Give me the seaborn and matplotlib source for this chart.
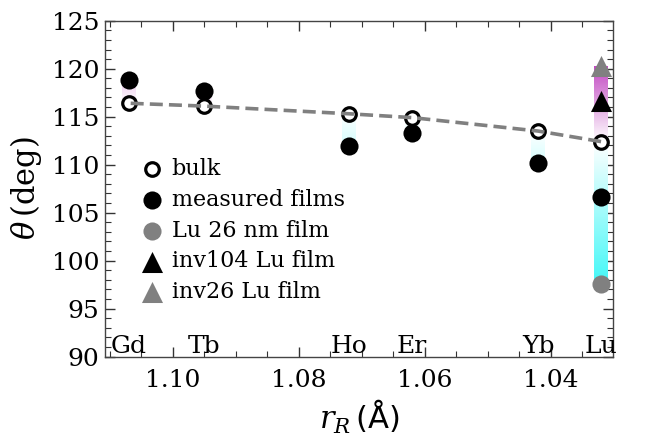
import numpy as np
import pandas as pd
import matplotlib
matplotlib.use("Agg")
import matplotlib.pyplot as plt
import seaborn as sns
from matplotlib.ticker import MultipleLocator, FormatStrFormatter

# ---- data ----
elements = ["Gd", "Tb", "Ho", "Er", "Yb", "Lu"]
radius = [1.107, 1.095, 1.072, 1.062, 1.042, 1.032]
bulk = [116.4, 116.1, 115.3, 114.9, 113.5, 112.4]
films = [118.8, 117.7, 111.9, 113.3, 110.2, 106.6]
lu_radius = [1.032]
lu26_film = [97.6]
inv104_film = [116.6]
inv26_film = [120.3]

sns.set_theme(style="ticks")
plt.rcParams["font.family"] = ["DejaVu Serif"]
plt.rcParams["mathtext.fontset"] = "dejavuserif"
plt.rcParams["text.color"] = "black"
plt.rcParams["axes.labelcolor"] = "black"

fig = plt.figure(figsize=(6.48, 4.41), dpi=100)
ax = fig.add_axes([0.162, 0.1916, 0.784, 0.7614])

cyan = np.array([0.25, 0.97, 0.97])
magenta = np.array([0.76, 0.28, 0.76])
white = np.array([1.0, 1.0, 1.0])
bar_w = 0.0022


def grad_bar(x, y_from, y_to):
    dev = y_to - y_from
    if dev < 0:
        col, scale = cyan, 15.0
    else:
        col, scale = magenta, 8.0
    n = 200
    frac = np.linspace(0, 1, n)
    inten = np.clip(frac * abs(dev) / scale, 0, 1)
    img = white[None, :] * (1 - inten[:, None]) + col[None, :] * inten[:, None]
    img = img[:, None, :]
    lo, hi = (y_from, y_to) if dev >= 0 else (y_to, y_from)
    if dev < 0:
        img = img[::-1]
    ax.imshow(img, extent=[x - bar_w / 2, x + bar_w / 2, lo, hi],
              origin="lower", aspect="auto", interpolation="bilinear", zorder=1)


for r, b, f in zip(radius, bulk, films):
    grad_bar(r, b, f)
grad_bar(lu_radius[0], bulk[-1], lu26_film[0])
grad_bar(lu_radius[0], bulk[-1], inv26_film[0])

df = pd.DataFrame({"r": radius, "bulk": bulk, "film": films})

sns.scatterplot(data=df, x="r", y="bulk", marker="o", s=95, facecolor="white",
                edgecolor="black", linewidth=2.3, label="bulk", ax=ax, zorder=3)
sns.scatterplot(data=df, x="r", y="film", marker="o", s=170, color="black",
                edgecolor="black", linewidth=0, label="measured films", ax=ax, zorder=3)
sns.scatterplot(x=lu_radius, y=lu26_film, marker="o", s=170, color="#808080",
                linewidth=0, label="Lu 26 nm film", ax=ax, zorder=3)
sns.scatterplot(x=lu_radius, y=inv104_film, marker="^", s=230, color="black",
                linewidth=0, label="inv104 Lu film", ax=ax, zorder=3)
sns.scatterplot(x=lu_radius, y=inv26_film, marker="^", s=230, color="#808080",
                linewidth=0, label="inv26 Lu film", ax=ax, zorder=3)
sns.lineplot(data=df, x="r", y="bulk", color="#808080", linestyle=(0, (3.6, 1.7)),
             linewidth=2.6, ax=ax, zorder=4, legend=False)

for el, r in zip(elements, radius):
    ax.text(r, 91.0, el, ha="center", va="center", fontsize=18, color="black", zorder=5)

ax.set_xlim(1.1108, 1.0301)
ax.set_ylim(90, 125)
ax.xaxis.set_major_locator(MultipleLocator(0.02))
ax.xaxis.set_minor_locator(MultipleLocator(0.005))
ax.xaxis.set_major_formatter(FormatStrFormatter("%.2f"))
ax.yaxis.set_major_locator(MultipleLocator(5))
ax.yaxis.set_minor_locator(MultipleLocator(1))
ax.tick_params(which="both", direction="in", top=True, right=True, colors="#333333",
               labelcolor="black", labelsize=18)
ax.tick_params(which="major", length=7, width=1)
ax.tick_params(which="minor", length=4, width=0.8)
ax.tick_params(axis="x", pad=9)
ax.tick_params(axis="y", pad=4)
for sp in ax.spines.values():
    sp.set_color("#444444")
    sp.set_linewidth(1.0)

ax.set_xlabel(r"$r_R\,\mathsf{(Å)}$", fontsize=22, labelpad=4)
ax.set_ylabel(r"$\theta\,$(deg)", fontsize=22, labelpad=6)

leg = ax.legend(loc="upper left", bbox_to_anchor=(0.07, 0.592), frameon=False,
                fontsize=16, handlelength=1.0, handletextpad=0.4, labelspacing=0.40,
                borderpad=0, borderaxespad=0, labelcolor="black")

fig.savefig("out.png", dpi=100)
